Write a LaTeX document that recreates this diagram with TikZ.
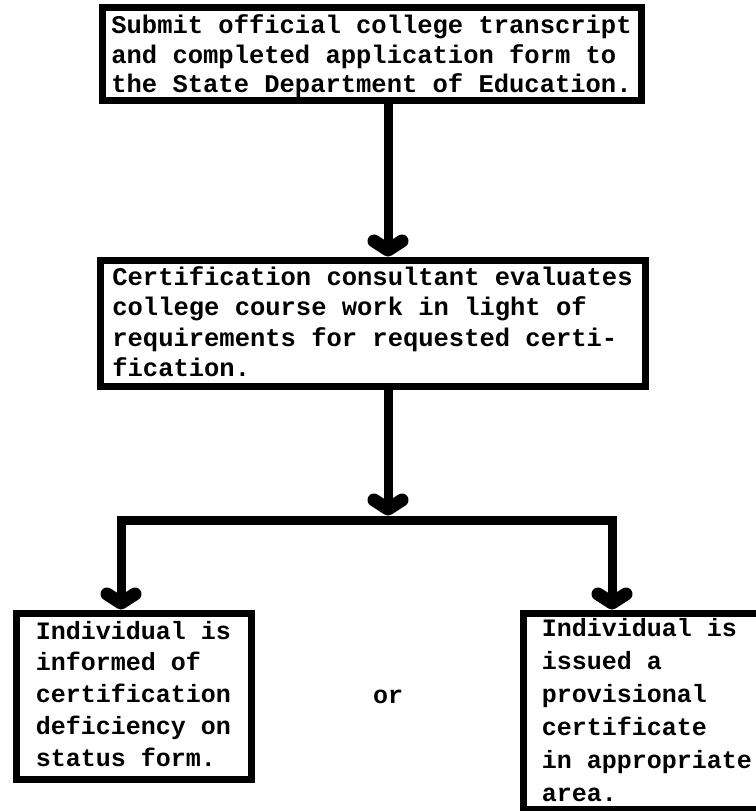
\documentclass[tikz,border=0pt]{standalone}
\usepackage{fontspec}
\setmonofont{Liberation Mono}
\usetikzlibrary{arrows.meta}
\begin{document}
\begin{tikzpicture}[x=1pt,y=-1pt,
  box/.style={draw=black,line width=7pt,inner sep=0pt,align=left,fill=white,text depth=4pt},
  conn/.style={draw=black,line width=9pt},
  barbtip/.tip={Straight Barb[length=9pt,width=28pt,line width=13pt,round]}
]
\useasboundingbox (0,0) rectangle (755,811);
\fill[white] (0,0) rectangle (755,811);

\node[box,font=\ttfamily\bfseries\fontsize{25.5}{29.5}\selectfont,minimum width=539pt,minimum height=93pt,text height=82pt] (b1) at (371.5,53.5)
  {Submit official college transcript\\and completed application form to\\the State Department of Education.};
\node[box,font=\ttfamily\bfseries\fontsize{25.5}{30.3}\selectfont,minimum width=545pt,minimum height=126pt,text height=111pt] (b2) at (372.5,323)
  {Certification consultant evaluates\\college course work in light of\\requirements for requested certi-\\fication.};
\node[box,font=\ttfamily\bfseries\fontsize{25}{31.75}\selectfont,minimum width=235pt,minimum height=166pt,text height=144pt] (b3) at (133.5,696)
  {Individual is\\informed of\\certification\\deficiency on\\status form.};
\node[box,font=\ttfamily\bfseries\fontsize{25}{33}\selectfont,minimum width=248pt,minimum height=196pt,text height=185pt] (b4) at (647,711)
  {Individual is\\issued a\\provisional\\certificate\\in appropriate\\area.};
\node[font=\ttfamily\bfseries\fontsize{25}{30}\selectfont] (or) at (388,697) {or};

\coordinate (j) at (388,520);
\coordinate (jl) at (121,520);
\coordinate (jr) at (612,520);

\draw[conn,-{barbtip}] (b1.south -| j) -- (b2.north -| j);
\draw[conn,-{barbtip}] (b2.south -| j) -- ([yshift=4.5pt]j);
\draw[conn,{barbtip}-{barbtip}] (b3.north -| jl) -- (jl) -- (jr) -- (b4.north -| jr);
\end{tikzpicture}
\end{document}
